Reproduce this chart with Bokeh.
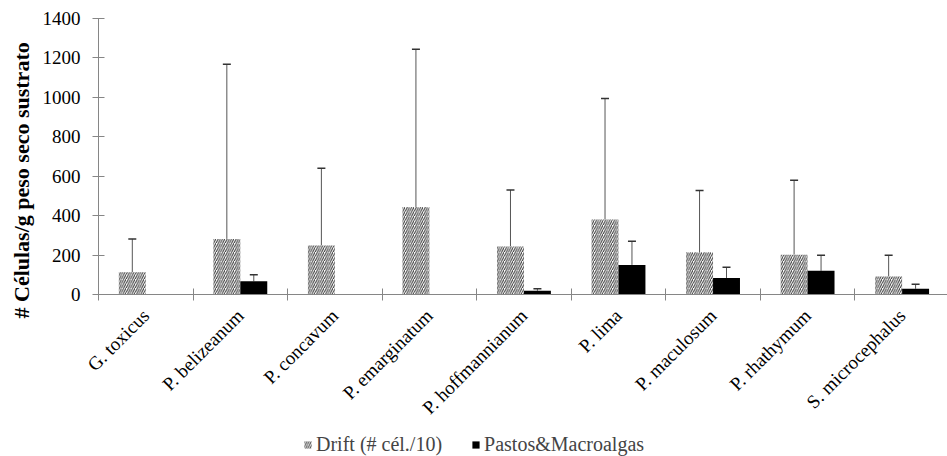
from bokeh.plotting import figure
from bokeh.layouts import column
from bokeh.models import (ColumnDataSource, Range1d, FixedTicker, Whisker, TeeHead,
                          Legend, LegendItem, Title)
from bokeh.embed import file_html
from bokeh.resources import INLINE

categories = ["G. toxicus", "P. belizeanum", "P. concavum", "P. emarginatum",
              "P. hoffmannianum", "P. lima", "P. maculosum", "P. rhathymum",
              "S. microcephalus"]
drift = [113, 282, 248, 444, 243, 380, 214, 202, 91]
drift_sd = [169, 886, 392, 800, 287, 614, 314, 378, 108]
pastos = [0, 67, 0, 0, 19, 150, 84, 120, 29]
pastos_sd = [0, 33, 0, 0, 10, 120, 54, 79, 23]
y_ticks = [0, 200, 400, 600, 800, 1000, 1200, 1400]
y_title = "# Células/g peso seco sustrato"
legend_labels = ["Drift (# cél./10)", "Pastos&Macroalgas"]

FONT = "Liberation Serif"
FS = "19px"
BW = 0.285
n = len(categories)
centers = [i + 0.5 for i in range(n)]

HATCH = dict(fill_color="white", line_color=None, hatch_pattern="/",
             hatch_color="#333333", hatch_scale=4.5, hatch_weight=1)
SOLID = dict(fill_color="black", line_color=None)

p = figure(width=947, height=430, output_backend="svg", toolbar_location=None,
           x_range=Range1d(0, 8.98), y_range=Range1d(0, 1400),
           min_border_left=97, min_border_right=0, min_border_top=18,
           min_border_bottom=136)
p.outline_line_color = None
p.xgrid.visible = False
p.ygrid.visible = False

d_src = ColumnDataSource(dict(x=[c - BW / 2 for c in centers], top=drift))
p_src = ColumnDataSource(dict(x=[c + BW / 2 for c in centers], top=pastos))

p.vbar(x="x", top="top", bottom=0, width=BW, source=d_src, **HATCH)
p.vbar(x="x", top="top", bottom=0, width=BW, source=p_src, **SOLID)

for vals, sds, src_x in ((drift, drift_sd, d_src.data["x"]), (pastos, pastos_sd, p_src.data["x"])):
    idx = [i for i in range(n) if sds[i] > 0]
    ws = ColumnDataSource(dict(x=[src_x[i] for i in idx], lo=[vals[i] for i in idx],
                               hi=[vals[i] + sds[i] for i in idx]))
    w = Whisker(source=ws, base="x", lower="lo", upper="hi", dimension="height",
                line_color="#555555", line_width=1, lower_head=None,
                upper_head=TeeHead(size=8, line_color="#333333", line_width=1.5))
    p.add_layout(w)

# axes
xa = p.xaxis[0]
xa.ticker = FixedTicker(ticks=centers, minor_ticks=list(range(n + 1)))
xa.major_label_overrides = {c: lab for c, lab in zip(centers, categories)}
xa.major_tick_line_color = None
xa.minor_tick_in = 6
xa.minor_tick_out = 6
xa.minor_tick_line_color = "#868686"
xa.axis_line_color = "#868686"
xa.major_label_orientation = 0.785398
xa.major_label_text_font = FONT
xa.major_label_text_font_size = FS
xa.major_label_text_color = "black"
xa.major_label_standoff = 12

ya = p.yaxis[0]
ya.ticker = FixedTicker(ticks=y_ticks)
ya.minor_tick_line_color = None
ya.major_tick_in = 6
ya.major_tick_out = 6
ya.major_tick_line_color = "#868686"
ya.axis_line_color = "#868686"
ya.major_label_text_font = FONT
ya.major_label_text_font_size = FS
ya.major_label_text_color = "black"
ya.major_label_standoff = 12

p.add_layout(Title(text=y_title, align="left", offset=-24, standoff=12,
                   text_font=FONT, text_font_size="22px", text_font_style="bold",
                   text_color="black"), "left")

# legend strip
lg = figure(width=947, height=26, output_backend="svg", toolbar_location=None,
            x_axis_type=None, y_axis_type=None, x_range=Range1d(0, 1), y_range=Range1d(0, 1),
            min_border=0)
lg.outline_line_color = None
lg.xgrid.visible = False
lg.ygrid.visible = False
e = ColumnDataSource(dict(x=[0.5], top=[0]))
l1 = lg.vbar(x="x", top="top", bottom=0, width=0.01, source=e, **HATCH)
l2 = lg.vbar(x="x", top="top", bottom=0, width=0.01, source=e, **SOLID)
legend = Legend(items=[LegendItem(label=legend_labels[0], renderers=[l1]),
                       LegendItem(label=legend_labels[1], renderers=[l2])],
                orientation="horizontal", location=(205, 0),
                label_text_font=FONT, label_text_font_size="20px",
                glyph_width=9, glyph_height=9, label_standoff=4, spacing=29,
                border_line_color=None, background_fill_alpha=0,
                padding=0, margin=0, label_height=20)
lg.add_layout(legend, "center")

open("out.html", "w").write(file_html(column(p, lg), INLINE))
